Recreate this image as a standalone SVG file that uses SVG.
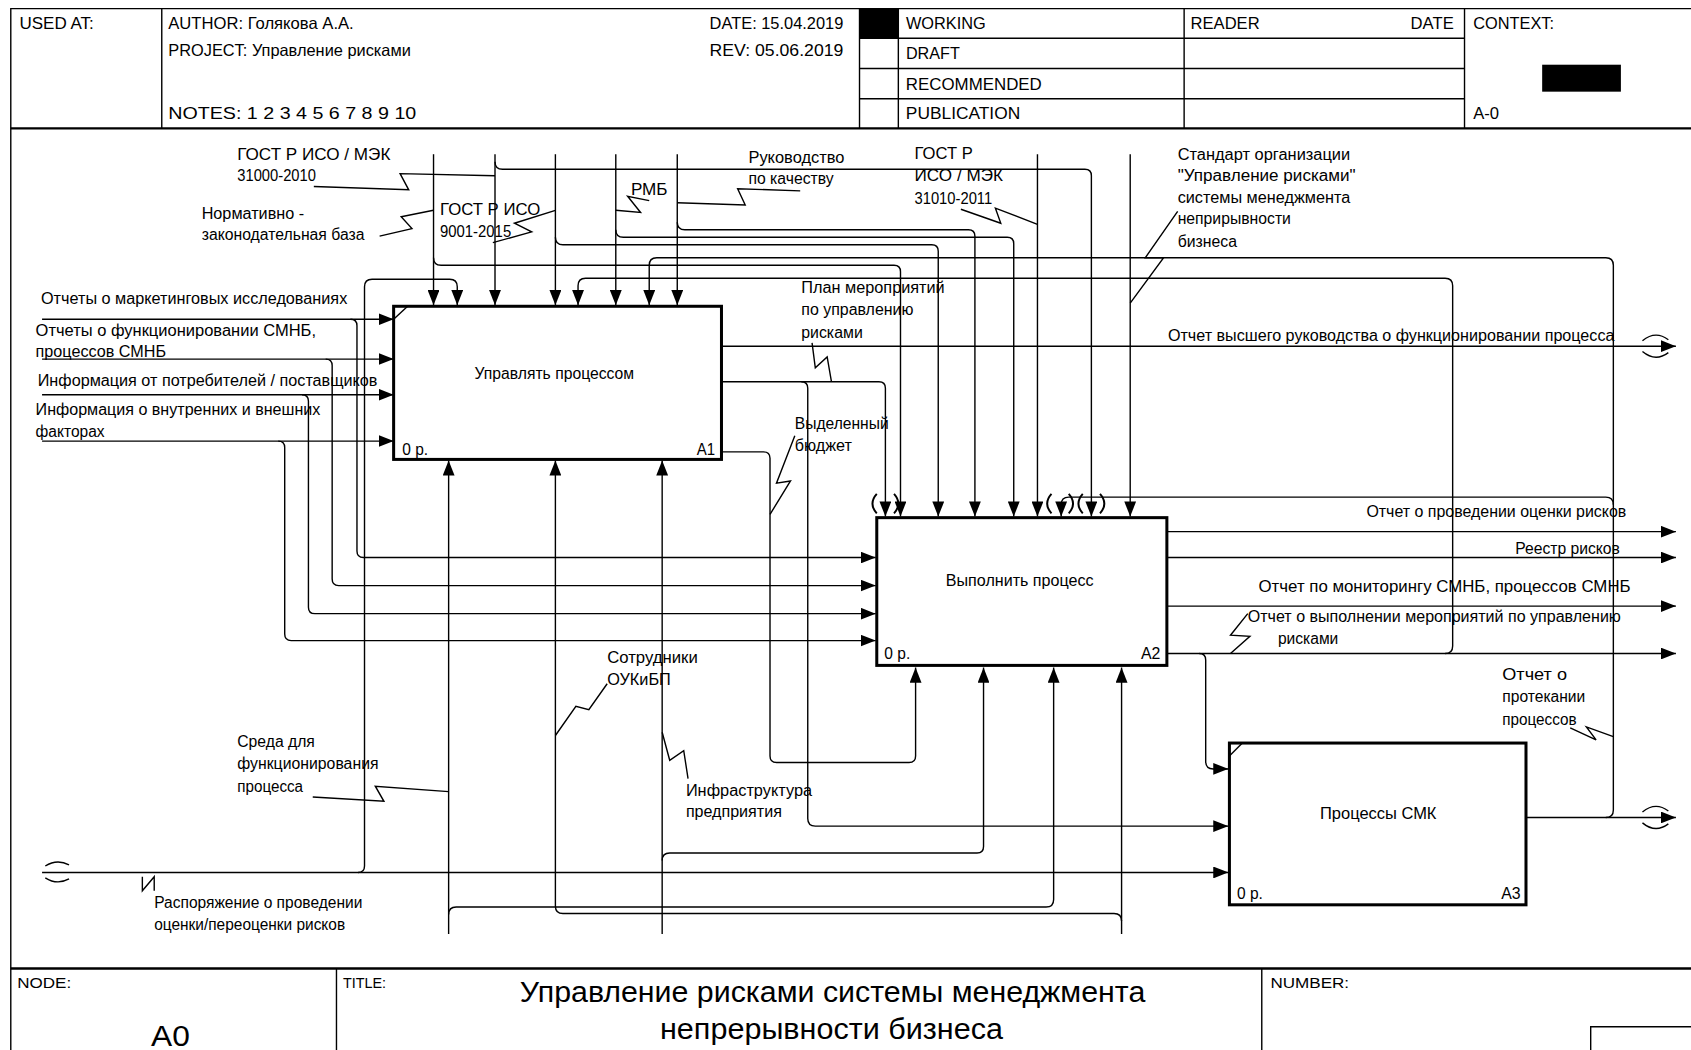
<svg xmlns="http://www.w3.org/2000/svg" width="1691" height="1050" viewBox="0 0 1691 1050">
<style>
text{font-family:"Liberation Sans",Arial,sans-serif;font-size:16px;fill:#000}
.h{font-size:15.5px}
.s{font-size:14px}
.big{font-size:28px}
.ln{fill:none;stroke:#000;stroke-width:1.3}
.par{fill:none;stroke:#000;stroke-width:1.8}
.fr{fill:none;stroke:#000;stroke-width:1.3}
.fr2{fill:none;stroke:#000;stroke-width:2.2}
.box{fill:#fff;stroke:#000;stroke-width:2.8}
.a{marker-end:url(#ah)}
</style>
<defs>
<marker id="ah" markerUnits="userSpaceOnUse" viewBox="0 0 14 11" markerWidth="14" markerHeight="11" refX="14" refY="5.5" orient="auto"><path d="M0,0 L14,5.5 L0,11 z" fill="#000"/></marker>
</defs>
<rect width="1691" height="1050" fill="#fff"/>
<g transform="scale(1.07844)">
<g id="frame">
<path class="fr" d="M10,974 V8 H1568"/>
<path class="fr2" d="M10,119 H1568"/>
<path class="fr" d="M150,8 V119 M797,8 V119 M833,8 V119 M1098,8 V119 M1358,8 V119 M797,35.5 H1358 M797,63.5 H1358 M797,91.5 H1358"/>
<rect x="797" y="8" width="36" height="27.5" fill="#000"/>
<rect x="1430" y="60" width="73" height="25" fill="#000"/>
<path class="fr2" d="M10,898 H1568"/>
<path class="fr" d="M312,898 V974 M1170,898 V974 M1475,974 V952 H1568"/>
<text class="h" x="18" y="26.5" textLength="69" lengthAdjust="spacingAndGlyphs">USED AT:</text>
<text class="h" x="156" y="26.5" textLength="172" lengthAdjust="spacingAndGlyphs">AUTHOR:  Голякова А.А.</text>
<text class="h" x="156" y="52" textLength="225" lengthAdjust="spacingAndGlyphs">PROJECT:  Управление рисками</text>
<text class="h" x="156" y="110" textLength="230" lengthAdjust="spacingAndGlyphs">NOTES:  1  2  3  4  5  6  7  8  9  10</text>
<text class="h" x="658" y="26.5" textLength="124" lengthAdjust="spacingAndGlyphs">DATE:  15.04.2019</text>
<text class="h" x="658" y="52" textLength="124" lengthAdjust="spacingAndGlyphs">REV:   05.06.2019</text>
<text class="h" x="840" y="27" textLength="74" lengthAdjust="spacingAndGlyphs">WORKING</text>
<text class="h" x="840" y="55" textLength="50" lengthAdjust="spacingAndGlyphs">DRAFT</text>
<text class="h" x="840" y="83" textLength="126" lengthAdjust="spacingAndGlyphs">RECOMMENDED</text>
<text class="h" x="840" y="110" textLength="106" lengthAdjust="spacingAndGlyphs">PUBLICATION</text>
<text class="h" x="1104" y="27" textLength="64" lengthAdjust="spacingAndGlyphs">READER</text>
<text class="h" x="1308" y="27" textLength="40" lengthAdjust="spacingAndGlyphs">DATE</text>
<text class="h" x="1366" y="27" textLength="75" lengthAdjust="spacingAndGlyphs">CONTEXT:</text>
<text class="h" x="1366" y="110" textLength="24" lengthAdjust="spacingAndGlyphs">A-0</text>
<text class="s" x="16" y="916" textLength="50" lengthAdjust="spacingAndGlyphs">NODE:</text>
<text class="big" x="140" y="970" textLength="36" lengthAdjust="spacingAndGlyphs">A0</text>
<text class="s" x="318" y="916" textLength="40" lengthAdjust="spacingAndGlyphs">TITLE:</text>
<text class="big" x="482" y="929" textLength="580" lengthAdjust="spacingAndGlyphs">Управление рисками системы  менеджмента</text>
<text class="big" x="612" y="963" textLength="318" lengthAdjust="spacingAndGlyphs">непрерывности  бизнеса</text>
<text class="s" x="1178" y="916" textLength="73" lengthAdjust="spacingAndGlyphs">NUMBER:</text>
</g>
<g id="connectors">
<path class="ln a" d="M402,143 V283"/>
<path class="ln a" d="M402,239 Q402,246 409,246 H829 Q835,246 835,252 V479"/>
<path class="ln a" d="M459,143 V283"/>
<path class="ln a" d="M459,150 Q459,157 466,157 H1006 Q1012,157 1012,163 V479"/>
<path class="ln a" d="M515,143 V283"/>
<path class="ln a" d="M515,220 Q515,227 522,227 H864 Q870,227 870,233 V479"/>
<path class="ln a" d="M571,143 V283"/>
<path class="ln a" d="M571,213 Q571,220 578,220 H934 Q940,220 940,226 V479"/>
<path class="ln a" d="M628,143 V283"/>
<path class="ln a" d="M628,206 Q628,213 635,213 H898 Q904,213 904,219 V479"/>
<path class="ln a" d="M962,143 V479"/>
<path class="ln a" d="M1048,143 V479"/>
<path class="ln a" d="M39,809 H1139"/>
<path class="ln a" d="M332,809 Q338,809 338,803 V266 Q338,259 345,259 H417 Q424,259 424,266 V283"/>
<path class="ln a" d="M1340,606 Q1347,606 1347,599 V265 Q1347,258 1340,258 H543 Q536,258 536,265 V283"/>
<path class="ln a" d="M1489,758 Q1496,758 1496,751 V246 Q1496,239 1489,239 H609 Q602,239 602,246 V283"/>
<path class="ln a" d="M1496,468 Q1496,461 1489,461 H991 Q984,461 984,468 V479"/>
<path class="ln a" d="M669,321 H1554"/>
<path class="ln a" d="M669,354 H815 Q821,354 821,360 V479"/>
<path class="ln a" d="M743,354 Q749,354 749,360 V759 Q749,766 756,766 H1139"/>
<path class="ln a" d="M669,419 H708 Q714,419 714,425 V701 Q714,707 720,707 H843 Q849,707 849,701 V619"/>
<path class="ln a" d="M1082,493 H1554"/>
<path class="ln a" d="M1082,517 H1554"/>
<path class="ln a" d="M1082,562 H1554"/>
<path class="ln a" d="M1082,606 H1554"/>
<path class="ln a" d="M1112,606 Q1118,606 1118,612 V706 Q1118,713 1125,713 H1139"/>
<path class="ln a" d="M1415,758 H1554"/>
<path class="ln a" d="M39,296 H365"/>
<path class="ln a" d="M325,296 Q331,296 331,302 V511 Q331,517 337,517 H812"/>
<path class="ln a" d="M39,333 H365"/>
<path class="ln a" d="M302,333 Q308,333 308,339 V537 Q308,543 314,543 H812"/>
<path class="ln a" d="M39,366 H365"/>
<path class="ln a" d="M280,366 Q286,366 286,372 V563 Q286,569 292,569 H812"/>
<path class="ln a" d="M39,409 H365"/>
<path class="ln a" d="M258,409 Q264,409 264,415 V588 Q264,594 270,594 H812"/>
<path class="ln a" d="M416,866 V427"/>
<path class="ln a" d="M416,848 Q416,841 423,841 H970 Q977,841 977,834 V619"/>
<path class="ln a" d="M1040,866 V619"/>
<path class="ln a" d="M1040,854 Q1040,847 1033,847 H522 Q515,847 515,840 V427"/>
<path class="ln a" d="M614,866 V427"/>
<path class="ln a" d="M614,798 Q614,791 621,791 H906 Q912,791 912,785 V619"/>
<path class="ln" d="M1523,316 Q1535,306 1547,315 M1523,326 Q1535,336 1547,327"/>
<path class="ln" d="M1523,753 Q1535,743 1547,752 M1523,763 Q1535,773 1547,764"/>
<path class="ln" d="M42,803 Q53,796 64,802 M42,814 Q53,821 64,815"/>
<path class="par" d="M813,458 Q805,467 813,476 M829,458 Q837,467 829,476"/>
<path class="par" d="M975,458 Q967,467 975,476 M991,458 Q999,467 991,476"/>
<path class="par" d="M1004,458 Q996,467 1004,476 M1020,458 Q1028,467 1020,476"/>
<polyline class="ln" points="291,173 379,176 371,161 459,163"/>
<polyline class="ln" points="352,219 382,212 372,201 402,195"/>
<polyline class="ln" points="457,225 493,215 477,207 515,195"/>
<polyline class="ln" points="571,195 594,197 582,182 602,186"/>
<polyline class="ln" points="742,177 684,175 691,190 628,188"/>
<polyline class="ln" points="891,194 928,207 923,193 962,208"/>
<polyline class="ln" points="1092,196 1062,239 1079,239 1048,281"/>
<polyline class="ln" points="753,318 756,341 767,331 771,354"/>
<polyline class="ln" points="737,404 720,448 733,446 714,477"/>
<polyline class="ln" points="1157,569 1141,589 1159,590 1141,606"/>
<polyline class="ln" points="1456,675 1480,686 1471,674 1496,683"/>
<polyline class="ln" points="563,634 546,658 534,655 515,682"/>
<polyline class="ln" points="290,739 356,743 348,729 416,734"/>
<polyline class="ln" points="638,722 634,696 621,705 614,679"/>
<polyline class="ln" points="132,813 132,826 143,813 143,826"/>
</g>
<g id="A1">
<rect class="box" x="365" y="284" width="304" height="142"/>
<path class="ln" d="M365,296 L378,284"/>
<text x="440" y="351" textLength="148" lengthAdjust="spacingAndGlyphs">Управлять процессом</text>
<text x="373" y="422" textLength="24" lengthAdjust="spacingAndGlyphs">0 р.</text>
<text x="646" y="422" textLength="17" lengthAdjust="spacingAndGlyphs">A1</text>
</g>
<g id="A2">
<rect class="box" x="813" y="480" width="269" height="137"/>
<text x="877" y="543" textLength="137" lengthAdjust="spacingAndGlyphs">Выполнить процесс</text>
<text x="820" y="611" textLength="24" lengthAdjust="spacingAndGlyphs">0 р.</text>
<text x="1058" y="611" textLength="18" lengthAdjust="spacingAndGlyphs">A2</text>
</g>
<g id="A3">
<rect class="box" x="1140" y="689" width="275" height="150"/>
<path class="ln" d="M1140,701 L1152,689"/>
<text x="1224" y="759" textLength="108" lengthAdjust="spacingAndGlyphs">Процессы СМК</text>
<text x="1147" y="834" textLength="24" lengthAdjust="spacingAndGlyphs">0 р.</text>
<text x="1392" y="834" textLength="18" lengthAdjust="spacingAndGlyphs">A3</text>
</g>
<g id="labels">
<text x="220" y="148" textLength="142" lengthAdjust="spacingAndGlyphs">ГОСТ Р ИСО / МЭК</text>
<text x="220" y="168" textLength="73" lengthAdjust="spacingAndGlyphs">31000-2010</text>
<text x="187" y="203" textLength="95" lengthAdjust="spacingAndGlyphs">Нормативно -</text>
<text x="187" y="223" textLength="151" lengthAdjust="spacingAndGlyphs">законодательная база</text>
<text x="408" y="199" textLength="93" lengthAdjust="spacingAndGlyphs">ГОСТ Р ИСО</text>
<text x="408" y="220" textLength="66" lengthAdjust="spacingAndGlyphs">9001-2015</text>
<text x="585" y="181" textLength="34" lengthAdjust="spacingAndGlyphs">РМБ</text>
<text x="694" y="151" textLength="89" lengthAdjust="spacingAndGlyphs">Руководство</text>
<text x="694" y="171" textLength="79" lengthAdjust="spacingAndGlyphs">по качеству</text>
<text x="848" y="147" textLength="54" lengthAdjust="spacingAndGlyphs">ГОСТ Р</text>
<text x="848" y="168" textLength="82" lengthAdjust="spacingAndGlyphs">ИСО / МЭК</text>
<text x="848" y="189" textLength="72" lengthAdjust="spacingAndGlyphs">31010-2011</text>
<text x="1092" y="148" textLength="160" lengthAdjust="spacingAndGlyphs">Стандарт организации</text>
<text x="1092" y="168" textLength="165" lengthAdjust="spacingAndGlyphs">"Управление рисками"</text>
<text x="1092" y="188" textLength="160" lengthAdjust="spacingAndGlyphs">системы менеджмента</text>
<text x="1092" y="208" textLength="105" lengthAdjust="spacingAndGlyphs">неприрывности</text>
<text x="1092" y="229" textLength="55" lengthAdjust="spacingAndGlyphs">бизнеса</text>
<text x="38" y="282" textLength="284" lengthAdjust="spacingAndGlyphs">Отчеты о маркетинговых исследованиях</text>
<text x="33" y="312" textLength="260" lengthAdjust="spacingAndGlyphs">Отчеты о функционировании СМНБ,</text>
<text x="33" y="331" textLength="121" lengthAdjust="spacingAndGlyphs">процессов СМНБ</text>
<text x="35" y="358" textLength="315" lengthAdjust="spacingAndGlyphs">Информация от потребителей / поставщиков</text>
<text x="33" y="385" textLength="264" lengthAdjust="spacingAndGlyphs">Информация о внутренних и внешних</text>
<text x="33" y="405" textLength="64" lengthAdjust="spacingAndGlyphs">факторах</text>
<text x="743" y="272" textLength="133" lengthAdjust="spacingAndGlyphs">План мероприятий</text>
<text x="743" y="292" textLength="104" lengthAdjust="spacingAndGlyphs">по управлению</text>
<text x="743" y="313" textLength="57" lengthAdjust="spacingAndGlyphs">рисками</text>
<text x="737" y="398" textLength="87" lengthAdjust="spacingAndGlyphs">Выделенный</text>
<text x="737" y="418" textLength="53" lengthAdjust="spacingAndGlyphs">бюджет</text>
<text x="1083" y="316" textLength="414" lengthAdjust="spacingAndGlyphs">Отчет  высшего руководства о функционировании процесса</text>
<text x="1267" y="479" textLength="241" lengthAdjust="spacingAndGlyphs">Отчет  о проведении оценки рисков</text>
<text x="1405" y="514" textLength="97" lengthAdjust="spacingAndGlyphs">Реестр рисков</text>
<text x="1167" y="549" textLength="345" lengthAdjust="spacingAndGlyphs">Отчет   по мониторингу СМНБ, процессов СМНБ</text>
<text x="1157" y="577" textLength="346" lengthAdjust="spacingAndGlyphs">Отчет  о выполнении мероприятий по управлению</text>
<text x="1185" y="597" textLength="56" lengthAdjust="spacingAndGlyphs">рисками</text>
<text x="1393" y="631" textLength="60" lengthAdjust="spacingAndGlyphs">Отчет  о</text>
<text x="1393" y="651" textLength="77" lengthAdjust="spacingAndGlyphs">протекании</text>
<text x="1393" y="672" textLength="69" lengthAdjust="spacingAndGlyphs">процессов</text>
<text x="563" y="615" textLength="84" lengthAdjust="spacingAndGlyphs">Сотрудники</text>
<text x="563" y="635" textLength="59" lengthAdjust="spacingAndGlyphs">ОУКиБП</text>
<text x="220" y="693" textLength="72" lengthAdjust="spacingAndGlyphs">Среда для</text>
<text x="220" y="713" textLength="131" lengthAdjust="spacingAndGlyphs">функционирования</text>
<text x="220" y="734" textLength="61" lengthAdjust="spacingAndGlyphs">процесса</text>
<text x="636" y="738" textLength="117" lengthAdjust="spacingAndGlyphs">Инфраструктура</text>
<text x="636" y="758" textLength="89" lengthAdjust="spacingAndGlyphs">предприятия</text>
<text x="143" y="842" textLength="193" lengthAdjust="spacingAndGlyphs">Распоряжение о проведении</text>
<text x="143" y="862" textLength="177" lengthAdjust="spacingAndGlyphs">оценки/переоценки рисков</text>
</g>
</g>
</svg>
